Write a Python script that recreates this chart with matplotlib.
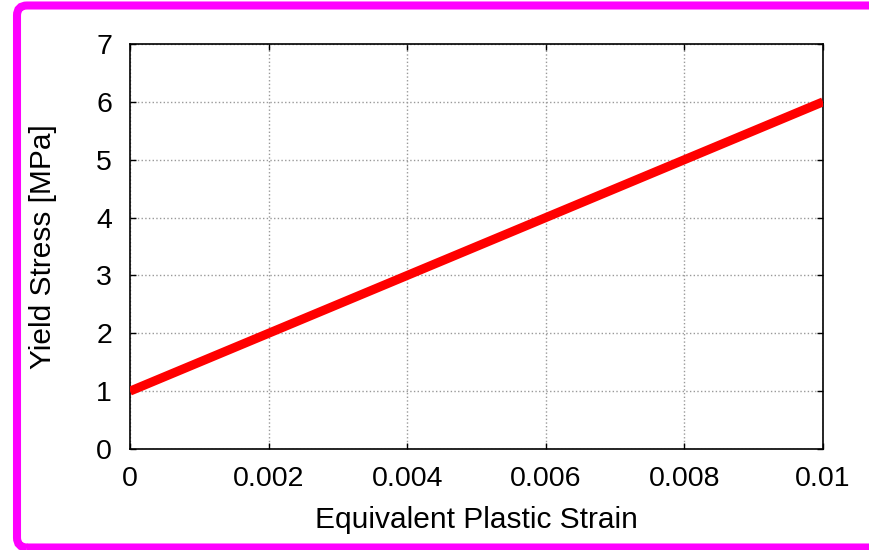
import matplotlib
matplotlib.use('Agg')
import matplotlib.pyplot as plt
from matplotlib.patches import FancyBboxPatch
from matplotlib.transforms import IdentityTransform

# data
strain = [0.0, 0.01]
stress = [1.0, 6.0]
xticks = [0, 0.002, 0.004, 0.006, 0.008, 0.01]
xticklabels = ['0', '0.002', '0.004', '0.006', '0.008', '0.01']
yticks = [0, 1, 2, 3, 4, 5, 6, 7]

plt.rcParams['font.family'] = ['Liberation Sans', 'DejaVu Sans']

W, H = 869, 550
fig = plt.figure(figsize=(W / 100, H / 100), dpi=100)

# magenta frame around the figure, in pixels (right side runs off the picture)
frame = FancyBboxPatch((17, 2.5), 950, 542,
                       boxstyle='round,pad=0,rounding_size=10',
                       transform=IdentityTransform(), fill=False,
                       edgecolor='#ff00ff', linewidth=5.8, zorder=0)
fig.patches.append(frame)

ax = fig.add_axes([130 / W, 101 / H, (823 - 130) / W, (449 - 44) / H])
ax.plot(strain, stress, color='#ff0000', linewidth=6.5, solid_capstyle='butt',
        zorder=3)

ax.set_xlim(0, 0.01)
ax.set_ylim(0, 7)
ax.set_xticks(xticks)
ax.set_xticklabels(xticklabels)
ax.set_yticks(yticks)
ax.tick_params(direction='in', length=4, width=1, labelsize=20.5,
               top=True, right=True, pad=12)
ax.tick_params(axis='y', pad=13)
ax.grid(True, color='#999999', linestyle=':', linewidth=1)
for s in ax.spines.values():
    s.set_linewidth(1.2)

ax.set_xlabel('Equivalent Plastic Strain', fontsize=21.5, labelpad=10)
ax.set_ylabel('Yield Stress [MPa]', fontsize=21.5, labelpad=28)

fig.savefig('out.png', dpi=100)
